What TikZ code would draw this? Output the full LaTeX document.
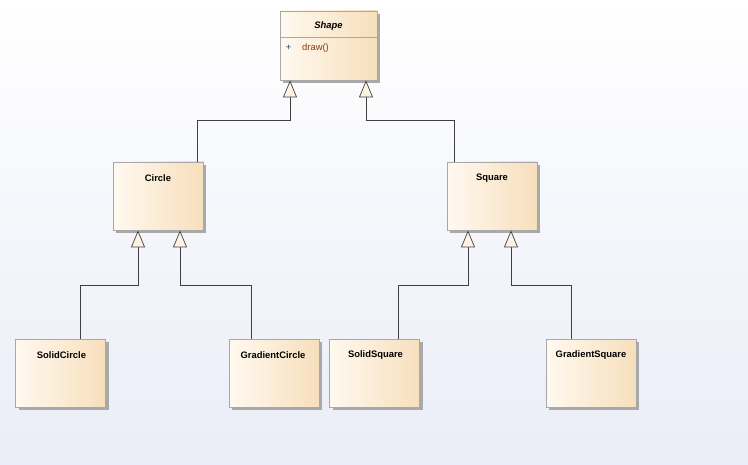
\documentclass[tikz,border=0pt]{standalone}
\usepackage{fontspec}
\setmainfont{Liberation Sans}
\usetikzlibrary{arrows.meta,shadows,calc}
\definecolor{bgbot}{HTML}{EAEDF7}
\definecolor{boxl}{HTML}{FFF9F0}
\definecolor{boxr}{HTML}{F7DFBC}
\definecolor{boxborder}{HTML}{A8A8A8}
\definecolor{shadowc}{HTML}{A9A9A9}
\definecolor{linec}{HTML}{404040}
\definecolor{tipfill}{HTML}{FDF3E3}
\definecolor{plusc}{HTML}{1F3F7A}
\definecolor{opc}{HTML}{8A3A10}
\tikzset{
  cls/.style={rectangle, draw=boxborder, line width=0.8pt, left color=boxl, right color=boxr,
    minimum width=90, minimum height=68, inner sep=0pt,
    general shadow={fill=shadowc, shadow xshift=3pt, shadow yshift=-3pt}},
  ttl/.style={font=\bfseries\fontsize{9.4}{11}\selectfont, inner sep=0pt, anchor=center},
  inh/.style={draw=linec, line width=0.7pt,
    -{Triangle[width=14pt,length=17pt,fill=tipfill,line width=0.7pt]}},
}
\begin{document}
\begin{tikzpicture}[x=1pt,y=-1pt]
\useasboundingbox (0,0) rectangle (748,465);
\shade[top color=white, bottom color=bgbot] (0,0) rectangle (748,465);
% boxes
\node[cls, minimum width=97, minimum height=69] (shape) at (328.5,45.5) {};
\draw[boxborder, line width=0.6pt] ([yshift=-27pt]shape.north west) coordinate (sepl) -- ([yshift=-27pt]shape.north east) coordinate (sepr);
\node[ttl, font=\bfseries\itshape\fontsize{9.4}{11}\selectfont] (shapet) at (328.5,26) {Shape};
\node[inner sep=0pt, font=\fontsize{9.4}{11}\selectfont, text=plusc] (plus) at (288.5,48) {+};
\node[inner sep=0pt, anchor=west, font=\fontsize{9.4}{11}\selectfont, text=opc] (draw) at (302,48) {draw()};

\node[cls] (circle) at (158,196) {};
\node[ttl] (circlet) at (158,178) {Circle};
\node[cls] (square) at (492,196) {};
\node[ttl] (squaret) at (492,178) {Square};

\node[cls] (solidc) at (60.5,373.5) {};
\node[ttl] (solidct) at (61.5,355) {SolidCircle};
\node[cls] (gradc) at (274,373.5) {};
\node[ttl] (gradct) at (273,355) {GradientCircle};
\node[cls] (solids) at (374.5,373.5) {};
\node[ttl] (solidst) at (375.5,355) {SolidSquare};
\node[cls] (grads) at (591,373.5) {};
\node[ttl] (gradst) at (591,355) {GradientSquare};

% connectors
\draw[inh] ([xshift=39pt]circle.north) -- ++(0,-41) -| ([xshift=-38.5pt]shape.south);
\draw[inh] ([xshift=-38pt]square.north) -- ++(0,-41) -| ([xshift=37.5pt]shape.south);
\draw[inh] ([xshift=19.5pt]solidc.north) -- ++(0,-54) -| ([xshift=-20pt]circle.south);
\draw[inh] ([xshift=-23pt]gradc.north) -- ++(0,-54) -| ([xshift=22pt]circle.south);
\draw[inh] ([xshift=23.5pt]solids.north) -- ++(0,-54) -| ([xshift=-24pt]square.south);
\draw[inh] ([xshift=-20pt]grads.north) -- ++(0,-54) -| ([xshift=19pt]square.south);
\end{tikzpicture}
\end{document}
